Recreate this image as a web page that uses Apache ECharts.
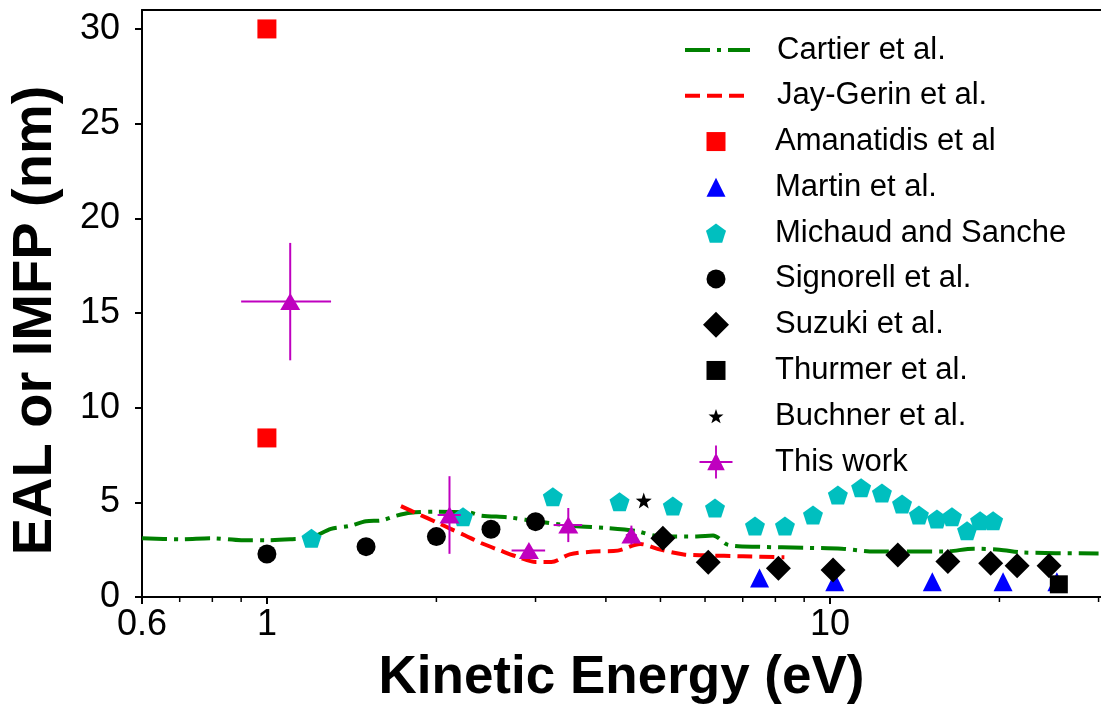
<!DOCTYPE html>
<html>
<head>
<meta charset="utf-8">
<script src="https://cdn.jsdelivr.net/npm/echarts@6/dist/echarts.min.js"></script>
<style>
html, body { margin: 0; padding: 0; background: #fff; }
#chart { width: 1101px; height: 715px; }
</style>
</head>
<body>
<div id="chart"></div>
<script>
// Cartier et al. (dash-dot curve)
var cartierE = [0.6, 0.7, 0.8, 0.9, 1.0, 1.1, 1.2, 1.3, 1.4, 1.5, 1.6, 1.7, 1.8, 2.0, 2.3, 2.4, 2.7, 3.0, 3.5, 4.0, 4.5, 5.0, 5.8, 6.2, 6.6, 7.5, 9.0, 10.5, 12, 16, 18, 20, 22, 30];
var cartierV = [3.1, 3.05, 3.1, 3.0, 3.0, 3.05, 3.15, 3.6, 3.75, 4.0, 4.05, 4.3, 4.45, 4.5, 4.45, 4.3, 4.2, 4.0, 3.75, 3.65, 3.5, 3.2, 3.2, 3.25, 2.75, 2.65, 2.6, 2.55, 2.4, 2.4, 2.55, 2.5, 2.35, 2.3];
// Jay-Gerin et al. (dashed curve)
var jayE = [1.73, 1.85, 2.0, 2.12, 2.25, 2.4, 2.6, 2.8, 3.0, 3.2, 3.45, 3.8, 4.2, 4.6, 5.0, 5.5, 6.0, 7.0, 8.3];
var jayV = [4.8, 4.4, 3.95, 3.6, 3.25, 2.85, 2.45, 2.1, 1.85, 1.85, 2.25, 2.4, 2.45, 2.8, 2.5, 2.25, 2.2, 2.15, 2.1];

var amanE = [1, 1];
var amanV = [30, 8.4];
var martinE = [7.5, 10.2, 15.2, 20.3, 25.3];
var martinV = [1.0, 0.8, 0.8, 0.8, 0.8];
var michaudE = [1.2, 2.23, 3.22, 4.23, 5.26, 6.25, 7.36, 8.32, 9.33, 10.33, 11.36, 12.37, 13.43, 14.39, 15.49, 16.47, 17.52, 18.48, 19.49];
var michaudV = [3.1, 4.24, 5.3, 5.03, 4.8, 4.7, 3.75, 3.75, 4.33, 5.39, 5.77, 5.49, 4.91, 4.33, 4.12, 4.24, 3.5, 4.03, 4.03];
var signorellE = [1, 1.5, 2, 2.5, 3];
var signorellV = [2.27, 2.66, 3.19, 3.58, 3.98];
var suzukiE = [5.05, 6.08, 8.1, 10.13, 13.2, 16.2, 19.3, 21.5, 24.5];
var suzukiV = [3.1, 1.83, 1.52, 1.43, 2.22, 1.87, 1.78, 1.65, 1.65];
var thurmerE = [25.5];
var thurmerV = [0.67];
var buchnerE = [4.67];
var buchnerV = [5.09];
// This work, with error bars
var thisE = [1.1, 2.11, 2.92, 3.43, 4.44];
var thisV = [15.6, 4.33, 2.45, 3.8, 3.27];
var thisXErr = [0.2, 0.1, 0.2, 0.2, 0.1];
var thisYErr = [3.1, 2.05, 0.3, 0.9, 0.5];

// axis ticks
var xMajorTicks = [0.6, 1, 10];
var xMajorLabels = ['0.6', '1', '10'];
var xMinorTicks = [0.7, 0.8, 0.9, 2, 3, 4, 5, 6, 7, 8, 9, 20, 30];

var FONT = "'Liberation Sans', Arial, sans-serif";
var MAGENTA = '#bf00bf';
var PENTAGON = 'path://M10 0 L19.51 6.91 L15.88 18.09 L4.12 18.09 L0.49 6.91 Z';
var STAR = 'path://M10 0 L12.35 6.76 L19.51 6.91 L13.8 11.24 L15.88 18.09 L10 14 L4.12 18.09 L6.2 11.24 L0.49 6.91 L7.65 6.76 Z';
var THISWORK_ICON = 'path://M0 15.1 H32 V16.9 H0 Z M15.1 0 H16.9 V32 H15.1 Z M16 7 L24.5 24 L7.5 24 Z';
var CARTIER_DASH = [25, 7, 4, 7];
var JAY_DASH = [15, 7];

function pairs(xs, ys) {
    return xs.map(function (x, i) { return [x, ys[i]]; });
}

function scatter(name, xs, ys, symbol, size, color) {
    return {
        name: name,
        type: 'scatter',
        data: pairs(xs, ys),
        symbol: symbol,
        symbolSize: size,
        itemStyle: { color: color, opacity: 1 },
        z: 5
    };
}

var legendNames = ['Cartier et al.', 'Jay-Gerin et al.', 'Amanatidis et al', 'Martin et al.',
    'Michaud and Sanche', 'Signorell et al.', 'Suzuki et al.', 'Thurmer et al.', 'Buchner et al.', 'This work'];
var legendIconH = [19, 19, 19, 19, 20, 19, 26, 19, 15, 33];

// one legend box per row so every marker keeps its own size
var legends = legendNames.map(function (name, i) {
    var h = legendIconH[i];
    var rowCenter = 50 + 45.78 * i;
    var item = { name: name };
    var isLine = i < 2;
    var w = isLine ? 65 : h;
    var left = isLine ? 683 : 716 - h / 2;
    if (isLine) {
        item.itemStyle = { color: 'rgba(0,0,0,0)', borderWidth: 0 };
        item.lineStyle = { width: 4, type: i === 0 ? CARTIER_DASH : JAY_DASH, color: i === 0 ? '#008000' : '#ff0000' };
    }
    if (name === 'This work') item.icon = THISWORK_ICON;
    return {
        left: left,
        top: rowCenter - Math.max(h, 31) / 2,
        padding: 0,
        itemWidth: w,
        itemHeight: h,
        selectedMode: false,
        data: [item],
        textStyle: { fontFamily: FONT, fontSize: 31, color: '#000', lineHeight: 31, padding: [0, 0, 0, 775 - (left + w + 5)] }
    };
});

var option = {
    animation: false,
    backgroundColor: '#fff',
    grid: { left: 142, top: 10, right: 0, bottom: 118, containLabel: false },
    legend: legends,
    xAxis: [{
        type: 'log',
        logBase: 10,
        min: 0.6,
        max: 30.3,
        name: 'Kinetic Energy (eV)',
        nameLocation: 'middle',
        nameGap: 55,
        nameTextStyle: { fontFamily: FONT, fontSize: 53, fontWeight: 'bold', color: '#000' },
        axisLine: { lineStyle: { color: '#000', width: 2 } },
        axisTick: { show: true, inside: false, length: 7, lineStyle: { color: '#000', width: 2 } },
        splitLine: { show: false },
        minorTick: { show: false },
        axisLabel: {
            fontFamily: FONT, fontSize: 36, color: '#000', margin: 10,
            showMaxLabel: false,
            formatter: function (v) {
                for (var i = 0; i < xMajorTicks.length; i++) {
                    if (Math.abs(v - xMajorTicks[i]) < 1e-6) return xMajorLabels[i];
                }
                return '';
            }
        }
    }, {
        type: 'log',
        logBase: 10,
        position: 'top',
        min: 0.6,
        max: 30.3,
        axisLine: { lineStyle: { color: '#000', width: 2 } },
        axisTick: { show: false },
        axisLabel: { show: false },
        splitLine: { show: false }
    }],
    yAxis: {
        type: 'value',
        min: 0,
        max: 31,
        interval: 5,
        name: 'EAL or IMFP (nm)',
        nameLocation: 'middle',
        nameGap: 78,
        nameTextStyle: { fontFamily: FONT, fontSize: 56, fontWeight: 'bold', color: '#000', padding: [0, 34, 0, 0] },
        axisLine: { show: true, lineStyle: { color: '#000', width: 2 } },
        axisTick: { show: true, inside: false, length: 7, lineStyle: { color: '#000', width: 2 } },
        splitLine: { show: false },
        axisLabel: { fontFamily: FONT, fontSize: 36, color: '#000', margin: 22, showMaxLabel: false }
    },
    series: [
        {
            name: 'Cartier et al.',
            type: 'line',
            data: pairs(cartierE, cartierV),
            showSymbol: false,
            symbol: 'none',
            smooth: 0.3,
            lineStyle: { color: '#008000', width: 4, type: CARTIER_DASH },
            itemStyle: { color: '#008000' },
            z: 3
        },
        {
            name: 'Jay-Gerin et al.',
            type: 'line',
            data: pairs(jayE, jayV),
            showSymbol: false,
            symbol: 'none',
            smooth: 0.3,
            lineStyle: { color: '#ff0000', width: 4, type: JAY_DASH },
            itemStyle: { color: '#ff0000' },
            z: 3
        },
        scatter('Amanatidis et al', amanE, amanV, 'rect', 19, '#ff0000'),
        scatter('Martin et al.', martinE, martinV, 'triangle', 19, '#0000ff'),
        scatter('Michaud and Sanche', michaudE, michaudV, PENTAGON, [20, 19], '#00bfbf'),
        scatter('Signorell et al.', signorellE, signorellV, 'circle', 19, '#000'),
        scatter('Suzuki et al.', suzukiE, suzukiV, 'diamond', 25, '#000'),
        scatter('Thurmer et al.', thurmerE, thurmerV, 'rect', 18, '#000'),
        scatter('Buchner et al.', buchnerE, buchnerV, STAR, 16, '#000'),
        {
            name: 'This work',
            type: 'custom',
            data: thisE.map(function (e, i) { return [e, thisV[i], thisXErr[i], thisYErr[i]]; }),
            itemStyle: { color: MAGENTA },
            z: 6,
            renderItem: function (params, api) {
                var e = api.value(0), v = api.value(1), dx = api.value(2), dy = api.value(3);
                var top = api.coord([e, v + dy]), bot = api.coord([e, v - dy]);
                var left = api.coord([e - dx, v]), right = api.coord([e + dx, v]);
                return {
                    type: 'group',
                    children: [
                        { type: 'line', shape: { x1: top[0], y1: top[1], x2: bot[0], y2: bot[1] }, style: { stroke: MAGENTA, lineWidth: 2 } },
                        { type: 'line', shape: { x1: left[0], y1: left[1], x2: right[0], y2: right[1] }, style: { stroke: MAGENTA, lineWidth: 2 } }
                    ]
                };
            }
        },
        scatter('This work', thisE, thisV, 'triangle', [20, 17], MAGENTA),
        {
            // minor ticks of the log axis
            name: 'minor ticks',
            type: 'custom',
            silent: true,
            clip: false,
            data: xMinorTicks.map(function (e) { return [e, 0]; }),
            renderItem: function (params, api) {
                var p = api.coord([api.value(0), 0]);
                return { type: 'line', shape: { x1: p[0], y1: p[1], x2: p[0], y2: p[1] + 5 }, style: { stroke: '#000', lineWidth: 1.5 } };
            }
        }
    ]
};

var chart = echarts.init(document.getElementById('chart'));
chart.setOption(option);
</script>
</body>
</html>
